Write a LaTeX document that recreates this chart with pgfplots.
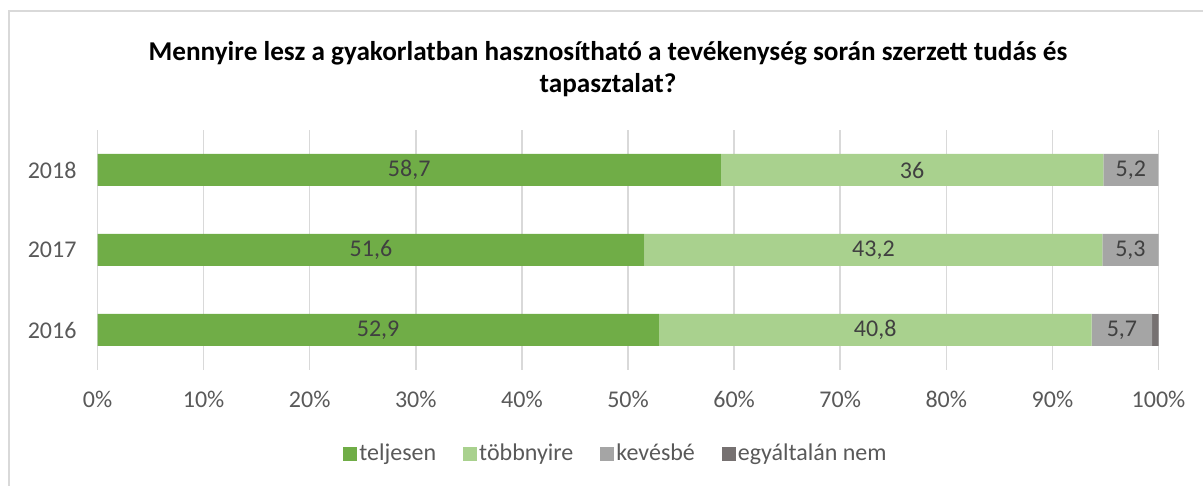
\documentclass[border=0pt]{standalone}
\usepackage{pgfplots}
\pgfplotsset{compat=1.18}
\usepackage{pgfplotstable}
\usepackage{fontspec}
\setmainfont{Carlito}
\definecolor{cA}{HTML}{70AD47}
\definecolor{cB}{HTML}{A9D18E}
\definecolor{cC}{HTML}{A5A5A5}
\definecolor{cD}{HTML}{767171}
\definecolor{gridC}{HTML}{D9D9D9}
\definecolor{tickC}{HTML}{595959}
\definecolor{labC}{HTML}{404040}
\pgfplotstableread{
y val lab
0 52.9 52,9
1 51.55 51,6
2 58.76 58,7
}\tA
\pgfplotstableread{
y val lab
0 40.8 40,8
1 43.16 43,2
2 36.04 36
}\tB
\pgfplotstableread{
y val lab
0 5.7 5,7
1 5.29 5,3
2 5.19 5,2
}\tC
\pgfplotstableread{
y val lab
0 0.6 0,6
}\tD
\begin{document}
\begin{tikzpicture}[x=0.5pt,y=0.5pt]
\useasboundingbox (0,0) rectangle (1203,486);
\draw[gridC, line width=1pt] (1215,475) -- (9,475) -- (9,-10);
\node[align=center, font=\bfseries\fontsize{13.6}{16}\selectfont, text=black] at (608,417) {Mennyire lesz a gyakorlatban hasznosítható a tevékenység során szerzett tudás és\\tapasztalat?};
\begin{axis}[
  at={(48.75pt,58pt)}, anchor=south west,
  scale only axis, width=530.5pt, height=120pt,
  xbar stacked, bar width=16pt,
  xmin=0, xmax=100, ymin=-0.5, ymax=2.5,
  ytick={0,1,2}, yticklabels={2016,2017,2018},
  xtick={0,10,...,100},
  xticklabel={\pgfmathprintnumber{\tick}\%},
  /pgf/number format/assume math mode=true,
  axis line style={draw=none}, major tick style={draw=none},
  xmajorgrids, grid style={gridC, line width=0.75pt},
  ticklabel style={font=\fontsize{12}{14}\selectfont, text=tickC},
  xticklabel style={yshift=-7pt},
  yticklabel style={xshift=-7pt},
  legend columns=4,
  legend style={at={(0.4887,-0.35)}, anchor=center, draw=none, fill=none,
    font=\fontsize{12}{14}\selectfont, text=tickC,
    nodes={inner xsep=1pt},
    /tikz/every even column/.append style={column sep=12.5pt}},
  legend image code/.code={\fill[#1] (0pt,-3.5pt) rectangle (7pt,3.5pt);},
  every node near coord/.append style={anchor=center, font=\fontsize{12}{14}\selectfont, text=labC},
]
\addplot[fill=cA, draw=none, nodes near coords, point meta=explicit symbolic] table[x=val, y=y, meta=lab] {\tA};
\addlegendentry{teljesen}
\addplot[fill=cB, draw=none, nodes near coords, point meta=explicit symbolic] table[x=val, y=y, meta=lab] {\tB};
\addlegendentry{többnyire}
\addplot[fill=cC, draw=none, nodes near coords, point meta=explicit symbolic] table[x=val, y=y, meta=lab] {\tC};
\addlegendentry{kevésbé}
\addplot[fill=cD, draw=none] table[x=val, y=y] {\tD};
\addlegendentry{egyáltalán nem}
\end{axis}
\end{tikzpicture}
\end{document}
